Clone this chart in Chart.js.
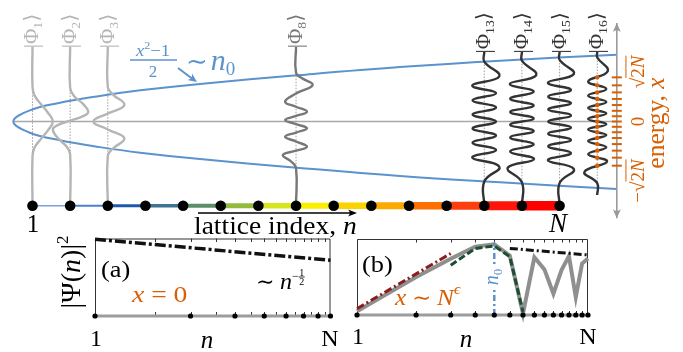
<!DOCTYPE html>
<html>
<head>
<meta charset="utf-8">
<title>Lattice eigenstates</title>
<script src="https://cdn.jsdelivr.net/npm/chart.js@4.4.1/dist/chart.umd.min.js"></script>
<style>
  html, body { margin: 0; padding: 0; background: #fff; }
  #wrap { position: relative; width: 683px; height: 352px; overflow: hidden; }
  #wrap canvas { position: absolute; left: 0; top: 0; }
</style>
</head>
<body>
<div id="wrap">
  <canvas id="main" width="683" height="352"></canvas>
  <canvas id="panelA" width="683" height="352"></canvas>
  <canvas id="panelB" width="683" height="352"></canvas>
</div>
<script>
// ---- top panel: lattice index n (x) against energy (y) ----
const latticeN = [1, 2, 3, 4, 5, 6, 7, 8, 9, 10, 11, 12, 13, 14, 15];
const latticeE = [-10.53, -10.53, -10.53, -10.53, -10.53, -10.53, -10.53, -10.53, -10.53, -10.53, -10.53, -10.53, -10.53, -10.53, -10.53];
const segColors = ['#7c9fdc', '#4a7fd4', '#1e58a8', '#3f7393', '#5c8e68', '#93ba3c', '#d6e51c', '#fbef00', '#fcd200', '#fdaa00', '#fe7100', '#fe3e0c', '#fe1408', '#fe0000'];
const segWidths = [1.5, 2, 3, 3.5, 4, 5, 5.5, 6, 6.5, 7, 7.5, 8, 9, 9.5];

// classical turning points (x^2-1)/2 ~ n0
const parabN = [16.52, 13.42, 10.76, 8.1, 5.45, 3.86, 2.79, 1.73, 0.93, 0.49, 0.93, 1.73, 2.79, 3.86, 5.45, 8.1, 10.76, 13.42, 16.52];
const parabE = [8.35, 7.6, 6.8, 5.8, 4.7, 3.9, 3.2, 2.35, 1.4, 0, -1.4, -2.35, -3.2, -3.9, -4.7, -5.8, -6.8, -7.6, -8.45];
const centerN = [0.49, 16.52];
const centerE = [0, 0];
const axisN = [16.52, 16.52];
const axisE = [-12.1, 12.3];

// eigenstates |Phi_k>, drawn around their lattice site
const psi1N = [1, 1, 1.05, 1.22, 1.41, 1.54, 1.41, 1.22, 1.05, 1, 1];
const psi1E = [9.35, 4.4, 3.3, 2.2, 1.1, 0, -1.1, -2.2, -3.3, -4.4, -10.53];
const psi2N = [2, 2, 2.1, 2.34, 2.48, 2.33, 2, 1.67, 1.54, 1.68, 1.9, 2, 2];
const psi2E = [9.35, 4.2, 3.2, 2.2, 1.2, 0.65, 0.1, -0.45, -1.0, -2.1, -3.1, -4.1, -10.53];
const psi3N = [3, 3, 3.13, 3.44, 3, 2.62, 3, 3.44, 3.13, 3, 3];
const psi3E = [9.35, 4.3, 3.4, 2.06, 1.0, 0, -1.0, -2.1, -3.4, -4.3, -10.53];
const psi8N = [8, 8, 8.16, 8.44, 8, 7.71, 8, 8.29, 8, 7.71, 8, 8.29, 8, 7.71, 8, 8.29, 8, 7.65, 7.87, 8, 8];
const psi8E = [9.35, 6.1, 5.4, 4.56, 3.5, 2.48, 1.85, 1.23, 0.7, 0.19, -0.33, -0.85, -1.38, -1.9, -2.5, -3.15, -3.65, -4.19, -5.0, -5.85, -10.53];
const psi13N = [13, 13, 13.40, 12.68, 13.31, 12.69, 13.31, 12.69, 13.31, 12.69, 13.31, 12.69, 13.31, 12.68, 13.40, 13, 13];
const psi13E = [8.69, 7.5, 5.65, 4.5, 3.55, 2.65, 1.75, 0.87, 0, -0.87, -1.75, -2.65, -3.55, -4.5, -5.65, -7.5, -10.53];
const psi14N = [14, 14, 14.38, 13.68, 14.31, 13.69, 14.31, 13.69, 14.31, 13.69, 14.31, 13.69, 14.31, 13.69, 14.32, 13.62, 14, 14];
const psi14E = [8.69, 7.6, 5.8, 4.7, 3.75, 2.85, 2.0, 1.18, 0.39, -0.39, -1.18, -2.0, -2.85, -3.75, -4.7, -5.8, -7.6, -10.53];
const psi15N = [15, 15, 15.38, 14.69, 15.30, 14.70, 15.30, 14.70, 15.30, 14.70, 15.30, 14.70, 15.30, 14.70, 15.30, 14.69, 15.38, 15, 15];
const psi15E = [8.69, 7.7, 5.95, 4.85, 3.95, 3.1, 2.3, 1.52, 0.76, 0, -0.76, -1.52, -2.3, -3.1, -3.95, -4.85, -5.95, -7.7, -10.53];
const psi16N = [16, 16, 16.28, 15.76, 16.24, 15.76, 16.24, 15.76, 16.24, 15.76, 16.24, 15.76, 16.24, 15.76, 16.24, 15.76, 16.26, 15.66, 16, 16];
const psi16E = [8.69, 8.0, 6.3, 5.0, 4.08, 3.23, 2.44, 1.7, 1.0, 0.33, -0.33, -1.0, -1.7, -2.44, -3.23, -4.08, -5.0, -6.3, -7.7, -9.19];

const ketIndex = ['1', '2', '3', '8', '13', '14', '15', '16'];
const baseN = [1, 2, 3, 8, 13, 14, 15, 16];
const baseTop = [4.4, 4.0, 4.3, 6.1, 7.5, 7.6, 7.7, 8.0];
const baseBot = [-4.4, -3.9, -4.3, -5.85, -7.5, -7.6, -7.7, -7.7];

// eigen-energies (orange ticks on the energy axis, nodes of |Phi_16>)
const eigenE = [5.52, 4.52, 3.64, 2.82, 2.06, 1.34, 0.66, 0, -0.66, -1.34, -2.06, -2.82, -3.64, -4.52, -5.52];

// ---- inset (a): x = 0 ----
const aSitesN = [1, 3, 5, 7, 9, 11, 13, 15];
const aSitesY = [0, 0, 0, 0, 0, 0, 0, 0];
const aFitN = [1, 15];
const aFitY = [0.99, 0.72];

// ---- inset (b): x ~ N^eps ----
const bSitesN = [1, 2, 3, 4, 5, 6, 7, 8, 9, 10, 11, 12, 13, 14, 15];
const bSitesY = [0, 0, 0, 0, 0, 0, 0, 0, 0, 0, 0, 0, 0, 0, 0];
const bPsiY = [0.05, 0.5, 0.74, 0.9, 0.93, 0.78, 0.02, 0.76, 0.6, 0.28, 0.59, 0.775, 0.237, 0.678, 0.743];
const bRedN = [1, 3];
const bRedY = [0.083, 0.81];
const bGreenN = [3, 4, 5, 6, 7];
const bGreenY = [0.655, 0.876, 0.908, 0.766, 0.04];
const bBlackN = [6, 15];
const bBlackY = [0.876, 0.79];
const bN0N = [5, 5];
const bN0Y = [0, 0.95];
const tickN = [2, 3, 4, 5, 6, 7, 8, 9, 10, 11, 12, 13, 14];

const SERIF = '"Liberation Serif", "DejaVu Serif", serif';
const BLUE = '#5b93cd';
const ORANGE = '#d95f02';
const pts = (xs, ys) => xs.map((x, i) => ({ x: x, y: ys[i] }));
const font = (s, it) => (it ? 'italic ' : '') + s + 'px ' + SERIF;

// text made of runs: {t, s, i (italic), dy, over, frac}
function drawRuns(ctx, runs, x, y, o) {
  o = o || {};
  ctx.save();
  ctx.translate(x, y);
  if (o.rot) ctx.rotate(o.rot);
  ctx.scale(o.sx || 1, 1);
  ctx.fillStyle = ctx.strokeStyle = o.color || '#000';
  ctx.textBaseline = 'alphabetic';
  let w = 0;
  runs.forEach(r => {
    ctx.font = font(r.s, r.i);
    r.w = r.frac ? Math.max(ctx.measureText(r.frac[0]).width, ctx.measureText(r.frac[1]).width) + 1
                 : ctx.measureText(r.t).width;
    w += r.w;
  });
  let cx = o.align === 'center' ? -w / 2 : o.align === 'right' ? -w : 0;
  runs.forEach(r => {
    ctx.font = font(r.s, r.i);
    const dy = r.dy || 0;
    if (r.frac) {
      ctx.textAlign = 'center';
      ctx.fillText(r.frac[0], cx + r.w / 2, dy - 1.5);
      ctx.fillText(r.frac[1], cx + r.w / 2, dy + 1 + r.s * 0.7);
      ctx.textAlign = 'left';
      ctx.lineWidth = 0.8;
      ctx.beginPath(); ctx.moveTo(cx, dy); ctx.lineTo(cx + r.w, dy); ctx.stroke();
    } else {
      ctx.fillText(r.t, cx, dy);
    }
    if (r.over) {
      ctx.lineWidth = 1;
      ctx.beginPath(); ctx.moveTo(cx, dy - r.s * 0.95); ctx.lineTo(cx + r.w, dy - r.s * 0.95); ctx.stroke();
    }
    cx += r.w;
  });
  ctx.restore();
}

function arrowHead(ctx, x, y, ang, color, len, half) {
  ctx.save();
  ctx.translate(x, y);
  ctx.rotate(ang);
  ctx.fillStyle = color;
  ctx.beginPath();
  ctx.moveTo(0, 0);
  ctx.lineTo(-len, -half);
  ctx.quadraticCurveTo(-len * 0.6, 0, -len, half);
  ctx.closePath();
  ctx.fill();
  ctx.restore();
}

const psiN = [psi1N, psi2N, psi3N, psi8N, psi13N, psi14N, psi15N, psi16N];
const psiE = [psi1E, psi2E, psi3E, psi8E, psi13E, psi14E, psi15E, psi16E];
const psiColor = ['#b5b5b5', '#b5b5b5', '#b5b5b5', '#777777', '#333333', '#333333', '#333333', '#333333'];

const waveSets = psiN.map((xs, k) => ({
  data: pts(xs, psiE[k]), borderColor: psiColor[k], borderWidth: 2.4, tension: 0.45, order: 6
}));
const baseSets = baseN.map((n, k) => ({
  data: pts([n, n], [baseTop[k], baseBot[k]]), borderColor: '#888', borderWidth: 0.8, borderDash: [1.5, 1.5], order: 8
}));

const mainDecor = {
  id: 'mainDecor',
  afterDatasetsDraw(chart) {
    const ctx = chart.ctx;
    const sx = v => chart.scales.x.getPixelForValue(v);
    const sy = v => chart.scales.y.getPixelForValue(v);

    // energy axis heads
    arrowHead(ctx, sx(axisN[1]), sy(axisE[1]), -Math.PI / 2, '#9a9a9a', 9, 4);
    arrowHead(ctx, sx(axisN[0]), sy(axisE[0]), Math.PI / 2, '#9a9a9a', 9, 4);

    // kets above each eigenstate
    ketIndex.forEach((k, i) => {
      drawRuns(ctx, [{ t: '|Φ', s: 20 }, { t: k, s: 13, dy: 4 }, { t: '⟩', s: 20 }],
        sx(psiN[i][0]) + 6, sy(psiE[i][0]) + 1.5, { rot: -Math.PI / 2, color: psiColor[i], sx: 1.05 });
    });

    // (x^2-1)/2 ~ n0
    drawRuns(ctx, [{ t: 'x', s: 17, i: 1 }, { t: '2', s: 11, dy: -7 }, { t: '−1', s: 17 }], 153, 56, { align: 'center', color: BLUE, sx: 1.1 });
    ctx.save();
    ctx.strokeStyle = BLUE; ctx.lineWidth = 1.4;
    ctx.beginPath(); ctx.moveTo(130, 60); ctx.lineTo(177, 60); ctx.stroke();
    ctx.restore();
    drawRuns(ctx, [{ t: '2', s: 17 }], 153, 77, { align: 'center', color: BLUE });
    drawRuns(ctx, [{ t: '∼', s: 26 }, { t: ' ', s: 12 }, { t: 'n', s: 30, i: 1 }, { t: '0', s: 19, dy: 5 }], 186, 70, { color: BLUE });
    ctx.save();
    ctx.strokeStyle = BLUE; ctx.lineWidth = 2;
    ctx.beginPath(); ctx.moveTo(178, 68); ctx.lineTo(192, 78.5); ctx.stroke();
    ctx.restore();
    arrowHead(ctx, 197, 82, Math.atan2(14, 19), BLUE, 9, 4);

    // lattice labels
    drawRuns(ctx, [{ t: '1', s: 25 }], 33, 232, { align: 'center' });
    drawRuns(ctx, [{ t: 'N', s: 27, i: 1 }], 558, 232, { align: 'center' });
    drawRuns(ctx, [{ t: 'lattice index, ', s: 25 }, { t: 'n', s: 25, i: 1 }], 194, 234, { sx: 1.1 });
    ctx.save();
    ctx.strokeStyle = '#000'; ctx.lineWidth = 1.3;
    ctx.beginPath(); ctx.moveTo(198, 213); ctx.lineTo(352, 213); ctx.stroke();
    ctx.restore();
    arrowHead(ctx, 357, 213, 0, '#000', 9, 3.5);

    // energy axis labels
    const rot = -Math.PI / 2;
    drawRuns(ctx, [{ t: '√', s: 19 }, { t: '2', s: 19, over: 1 }, { t: 'N', s: 19, i: 1, over: 1 }], 644, 72, { rot, align: 'center', color: ORANGE });
    drawRuns(ctx, [{ t: '0', s: 19 }], 644, 121.5, { rot, align: 'center', color: ORANGE });
    drawRuns(ctx, [{ t: '−', s: 19 }, { t: '√', s: 19 }, { t: '2', s: 19, over: 1 }, { t: 'N', s: 19, i: 1, over: 1 }], 644, 181, { rot, align: 'center', color: ORANGE });
    drawRuns(ctx, [{ t: 'energy, ', s: 25 }, { t: 'x', s: 25, i: 1 }], 664, 123, { rot, align: 'center', color: ORANGE, sx: 1.02 });
  }
};

new Chart(document.getElementById('main'), {
  type: 'line',
  data: {
    datasets: [
      { data: pts(eigenE.map(() => 16), eigenE), showLine: false, pointRadius: 2.2, pointBackgroundColor: ORANGE, pointBorderWidth: 0, order: 1 },
      { data: pts(eigenE.map(() => axisN[0]), eigenE), showLine: false, pointStyle: 'line', pointRadius: 5, pointBorderWidth: 2, pointBorderColor: ORANGE, order: 2 },
      {
        data: pts(latticeN, latticeE), borderColor: segColors[0], borderWidth: 2,
        pointRadius: 5.3, pointBackgroundColor: '#000', pointBorderWidth: 0, order: 3,
        segment: { borderColor: c => segColors[c.p0DataIndex], borderWidth: c => segWidths[c.p0DataIndex] }
      },
      ...waveSets,
      ...baseSets,
      { data: pts(axisN, axisE), borderColor: '#9a9a9a', borderWidth: 1.6, order: 8 },
      { data: pts(parabN, parabE), borderColor: BLUE, borderWidth: 2, tension: 0.4, order: 9 },
      { data: pts(centerN, centerE), borderColor: '#a8a8a8', borderWidth: 1.4, order: 10 }
    ]
  },
  options: {
    responsive: false, animation: false, devicePixelRatio: 1,
    layout: { padding: 0, autoPadding: false },
    plugins: { legend: { display: false }, tooltip: { enabled: false } },
    elements: { point: { radius: 0 } },
    datasets: { line: { clip: false } },
    scales: {
      x: { type: 'linear', min: 0.137, max: 18.278, display: false },
      y: { type: 'linear', min: -28.81, max: 15.19, display: false }
    }
  },
  plugins: [mainDecor]
});

// ---- insets ----
function frame(chart) {
  const ctx = chart.ctx;
  const a = chart.chartArea;
  const xs = chart.scales.x;
  ctx.save();
  ctx.strokeStyle = '#333'; ctx.lineWidth = 1;
  ctx.beginPath();
  ctx.moveTo(a.left + 0.5, a.bottom); ctx.lineTo(a.left + 0.5, a.top + 0.5);
  ctx.lineTo(a.right - 0.5, a.top + 0.5); ctx.lineTo(a.right - 0.5, a.bottom);
  tickN.forEach(n => {
    const x = Math.round(xs.getPixelForValue(n)) + 0.5;
    ctx.moveTo(x, a.top); ctx.lineTo(x, a.top + 3.5);
    ctx.moveTo(x, a.bottom); ctx.lineTo(x, a.bottom - 4);
  });
  ctx.stroke();
  ctx.strokeStyle = '#9c9c9c'; ctx.lineWidth = 3;
  ctx.beginPath(); ctx.moveTo(a.left, a.bottom); ctx.lineTo(a.right, a.bottom); ctx.stroke();
  ctx.restore();
}

function inset(id, pad, datasets, labels) {
  return new Chart(document.getElementById(id), {
    type: 'line',
    data: { datasets },
    options: {
      responsive: false, animation: false, devicePixelRatio: 1,
      layout: { padding: pad, autoPadding: false },
      plugins: { legend: { display: false }, tooltip: { enabled: false } },
      elements: { point: { radius: 0 } },
      datasets: { line: { clip: false } },
      scales: {
        x: { type: 'logarithmic', min: 1, max: 15, display: false },
        y: { type: 'linear', min: 0, max: 1, display: false }
      }
    },
    plugins: [{ id: id + 'Decor', beforeDatasetsDraw: frame, afterDraw: labels }]
  });
}

const dots = (xs, ys) => ({ data: pts(xs, ys), showLine: false, pointRadius: 2.6, pointBackgroundColor: '#000', pointBorderWidth: 0, order: 0 });

inset('panelA', { left: 95, top: 238.5, right: 352.5, bottom: 36 }, [
  dots(aSitesN, aSitesY),
  { data: pts(aFitN, aFitY), borderColor: '#111', borderWidth: 3.5, borderDash: [11, 3, 3, 3], order: 2 }
], chart => {
  const ctx = chart.ctx;
  drawRuns(ctx, [{ t: '(a)', s: 24 }], 101, 277, { sx: 1.1 });
  drawRuns(ctx, [{ t: '∼ ', s: 22 }, { t: 'n', s: 24, i: 1 }, { t: '−', s: 12, dy: -9 }, { frac: ['1', '2'], s: 10, dy: -12 }], 256, 289);
  drawRuns(ctx, [{ t: 'x', s: 24, i: 1 }, { t: ' = 0', s: 24 }], 132, 302, { color: ORANGE, sx: 1.15 });
  drawRuns(ctx, [{ t: '|Ψ(', s: 28 }, { t: 'n', s: 28, i: 1 }, { t: ')|', s: 28 }, { t: '2', s: 17, dy: -12 }], 80, 272, { rot: -Math.PI / 2, align: 'center' });
  drawRuns(ctx, [{ t: '1', s: 24 }], 96, 346, { align: 'center' });
  drawRuns(ctx, [{ t: 'n', s: 25, i: 1 }], 207, 348, { align: 'center' });
  drawRuns(ctx, [{ t: 'N', s: 24 }], 330, 346, { align: 'center' });
});

inset('panelB', { left: 357, top: 239, right: 95, bottom: 37 }, [
  dots(bSitesN, bSitesY),
  { data: pts(bN0N, bN0Y), borderColor: BLUE, borderWidth: 2.5, borderDash: [6, 3, 2, 3], order: 1 },
  { data: pts(bBlackN, bBlackY), borderColor: '#111', borderWidth: 3, borderDash: [8, 3, 2, 3], order: 2 },
  { data: pts(bGreenN, bGreenY), borderColor: '#1d4d33', borderWidth: 3, borderDash: [7, 3], order: 3 },
  { data: pts(bRedN, bRedY), borderColor: '#8b1c1c', borderWidth: 3, borderDash: [8, 3, 2, 3], order: 4 },
  { data: pts(bSitesN, bPsiY), borderColor: '#8f8f8f', borderWidth: 4, order: 5 }
], chart => {
  const ctx = chart.ctx;
  drawRuns(ctx, [{ t: '(b)', s: 24 }], 362, 272, { sx: 1.1 });
  drawRuns(ctx, [{ t: 'x', s: 24, i: 1 }, { t: ' ∼ ', s: 22 }, { t: 'N', s: 24, i: 1 }, { t: 'ϵ', s: 15, i: 1, dy: -11 }], 395, 305, { color: ORANGE, sx: 1.05 });
  ctx.save();
  ctx.fillStyle = '#fff';
  ctx.fillRect(487, 265, 14, 24);
  ctx.restore();
  drawRuns(ctx, [{ t: 'n', s: 20, i: 1 }, { t: '0', s: 13, dy: 4 }], 498, 277, { rot: -Math.PI / 2, align: 'center', color: BLUE });
  drawRuns(ctx, [{ t: '1', s: 24 }], 358, 344, { align: 'center' });
  drawRuns(ctx, [{ t: 'n', s: 25, i: 1 }], 466, 347, { align: 'center' });
  drawRuns(ctx, [{ t: 'N', s: 24 }], 588, 344, { align: 'center' });
});
</script>
</body>
</html>
